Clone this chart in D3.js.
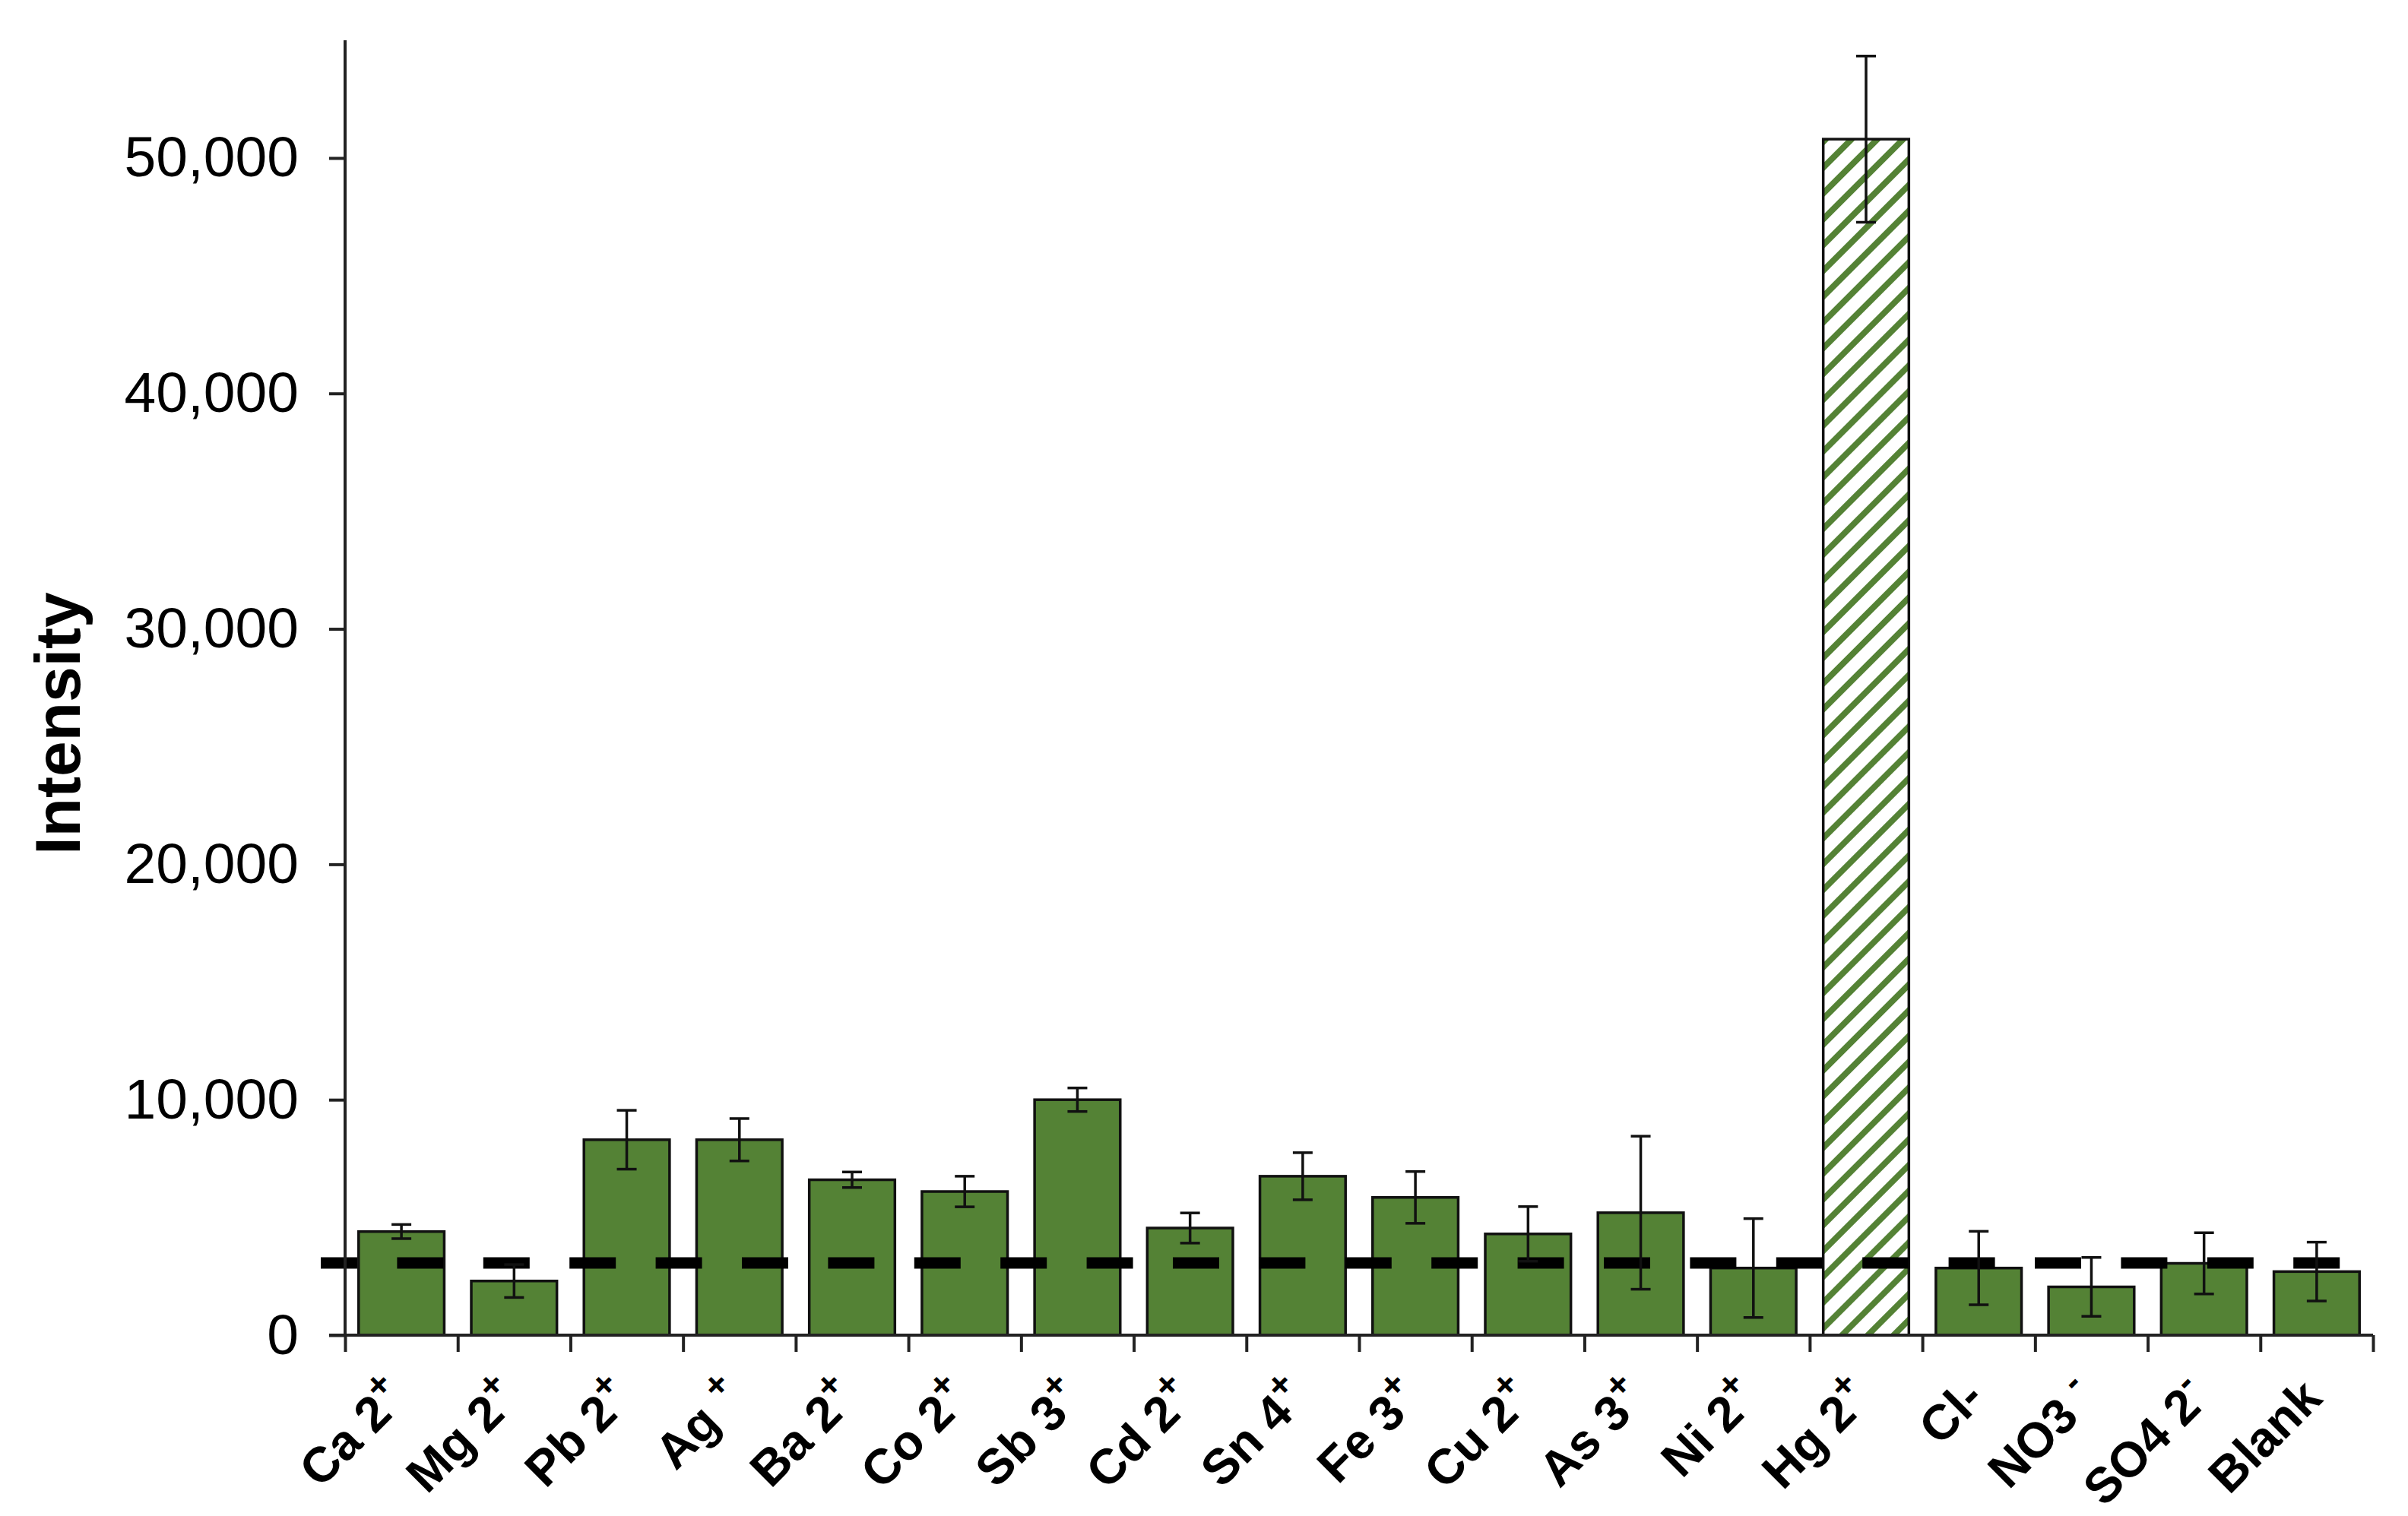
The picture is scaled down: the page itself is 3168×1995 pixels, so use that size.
<!DOCTYPE html>
<html>
<head>
<meta charset="utf-8">
<script src="https://cdn.jsdelivr.net/npm/d3@7"></script>
<style>
  body { margin: 0; background: #fff; }
  svg { display: block; }
  text { font-family: Arial, "Liberation Sans", sans-serif; }
</style>
</head>
<body>
<script>
// ions tested, label split into main text and superscript charge
var ions    = ["Ca 2", "Mg 2", "Pb 2", "Ag ", "Ba 2", "Co 2", "Sb 3", "Cd 2", "Sn 4",
               "Fe 3", "Cu 2", "As 3", "Ni 2", "Hg 2", "Cl-", "NO3 ", "SO4 2", "Blank"];
var charges = ["+", "+", "+", "+", "+", "+", "+", "+", "+",
               "+", "+", "+", "+", "+", "", "-", "-", ""];
var intensity = [4400, 2300, 8300, 8300, 6600, 6100, 10000, 4550, 6750,
                 5850, 4300, 5200, 2850, 50800, 2850, 2050, 3050, 2700];
var errors    = [300, 700, 1250, 900, 330, 650, 500, 640, 1000,
                 1100, 1160, 3250, 2100, 3530, 1560, 1250, 1300, 1250];
var target = "Hg 2";        // the hatched bar
var threshold = 3070;       // dashed line level
var yTicks = [0, 10000, 20000, 30000, 40000, 50000];

var width = 3168, height = 1995;
var margin = {top: 53, right: 46, bottom: 238, left: 454};
var green = "#548235";

var svg = d3.select("body").append("svg")
    .attr("width", width)
    .attr("height", height);

var defs = svg.append("defs");
var hatch = defs.append("pattern")
    .attr("id", "hatch")
    .attr("patternUnits", "userSpaceOnUse")
    .attr("width", 24)
    .attr("height", 24)
    .attr("patternTransform", "rotate(45)");
hatch.append("rect").attr("width", 24).attr("height", 24).attr("fill", "#fff");
hatch.append("rect").attr("width", 8).attr("height", 24).attr("fill", green);

var x = d3.scaleBand()
    .domain(ions)
    .range([margin.left, width - margin.right])
    .paddingInner(0.24)
    .paddingOuter(0.12);

var y = d3.scaleLinear()
    .domain([0, 55000])
    .range([height - margin.bottom, margin.top]);

var data = ions.map(function(d, i) {
  return {ion: d, charge: charges[i], value: intensity[i], err: errors[i]};
});

// bars
svg.append("g").selectAll("rect")
    .data(data)
    .enter().append("rect")
    .attr("x", function(d) { return x(d.ion); })
    .attr("y", function(d) { return y(d.value); })
    .attr("width", x.bandwidth())
    .attr("height", function(d) { return y(0) - y(d.value); })
    .attr("fill", function(d) { return d.ion == target ? "url(#hatch)" : green; })
    .attr("stroke", "#111")
    .attr("stroke-width", 3.5);

// dashed threshold line
svg.append("line")
    .attr("x1", margin.left - 32)
    .attr("x2", x(ions[ions.length - 1]) + x.bandwidth() * 0.77)
    .attr("y1", y(threshold))
    .attr("y2", y(threshold))
    .attr("stroke", "#000")
    .attr("stroke-width", 15)
    .attr("stroke-dasharray", "61,52.4")
    .attr("stroke-dashoffset", 13);

// error bars
var eb = svg.append("g").attr("stroke", "#111").attr("stroke-width", 3.5);
data.forEach(function(d) {
  var cx = x(d.ion) + x.bandwidth() / 2;
  eb.append("line")
      .attr("x1", cx).attr("x2", cx)
      .attr("y1", y(d.value + d.err)).attr("y2", y(d.value - d.err));
  [d.value + d.err, d.value - d.err].forEach(function(v) {
    eb.append("line")
        .attr("x1", cx - 13).attr("x2", cx + 13)
        .attr("y1", y(v)).attr("y2", y(v));
  });
});

// y axis
var yAxis = svg.append("g")
    .attr("transform", "translate(" + margin.left + ",0)")
    .call(d3.axisLeft(y).tickValues(yTicks).tickFormat(d3.format(",")).tickSize(21).tickPadding(40));
yAxis.selectAll("path, line").attr("stroke", "#222").attr("stroke-width", 4);
yAxis.select(".domain").attr("d", "M0," + y(55000) + "V" + y(0));
yAxis.selectAll("text")
    .attr("font-size", 75)
    .attr("fill", "#000")
    .style("font-family", "Arial, 'Liberation Sans', sans-serif");

// x axis: ticks between categories
var bounds = d3.scaleLinear().domain([0, ions.length]).range(x.range());
var xAxis = svg.append("g")
    .attr("transform", "translate(0," + y(0) + ")")
    .call(d3.axisBottom(bounds).ticks(ions.length).tickFormat("").tickSize(22).tickSizeOuter(22));
xAxis.selectAll("path, line").attr("stroke", "#222").attr("stroke-width", 4);
xAxis.select(".domain").attr("d", "M" + (margin.left - 21) + ",0H" + (width - margin.right));

// x labels
var labels = svg.append("g").selectAll("text")
    .data(data)
    .enter().append("text")
    .attr("transform", function(d) {
      return "translate(" + (x(d.ion) + x.bandwidth() / 2 + 10) + "," + (y(0) + 86) + ") rotate(-45)";
    })
    .attr("text-anchor", "end")
    .attr("font-size", 65)
    .attr("font-weight", "bold")
    .attr("fill", "#000");
labels.append("tspan").text(function(d) { return d.ion; });
labels.append("tspan")
    .attr("font-size", 48)
    .attr("dy", -27)
    .text(function(d) { return d.charge; });

// y axis title
svg.append("text")
    .attr("transform", "translate(105,952) rotate(-90)")
    .attr("text-anchor", "middle")
    .attr("font-size", 84)
    .attr("font-weight", "bold")
    .attr("fill", "#000")
    .text("Intensity");
</script>
</body>
</html>
